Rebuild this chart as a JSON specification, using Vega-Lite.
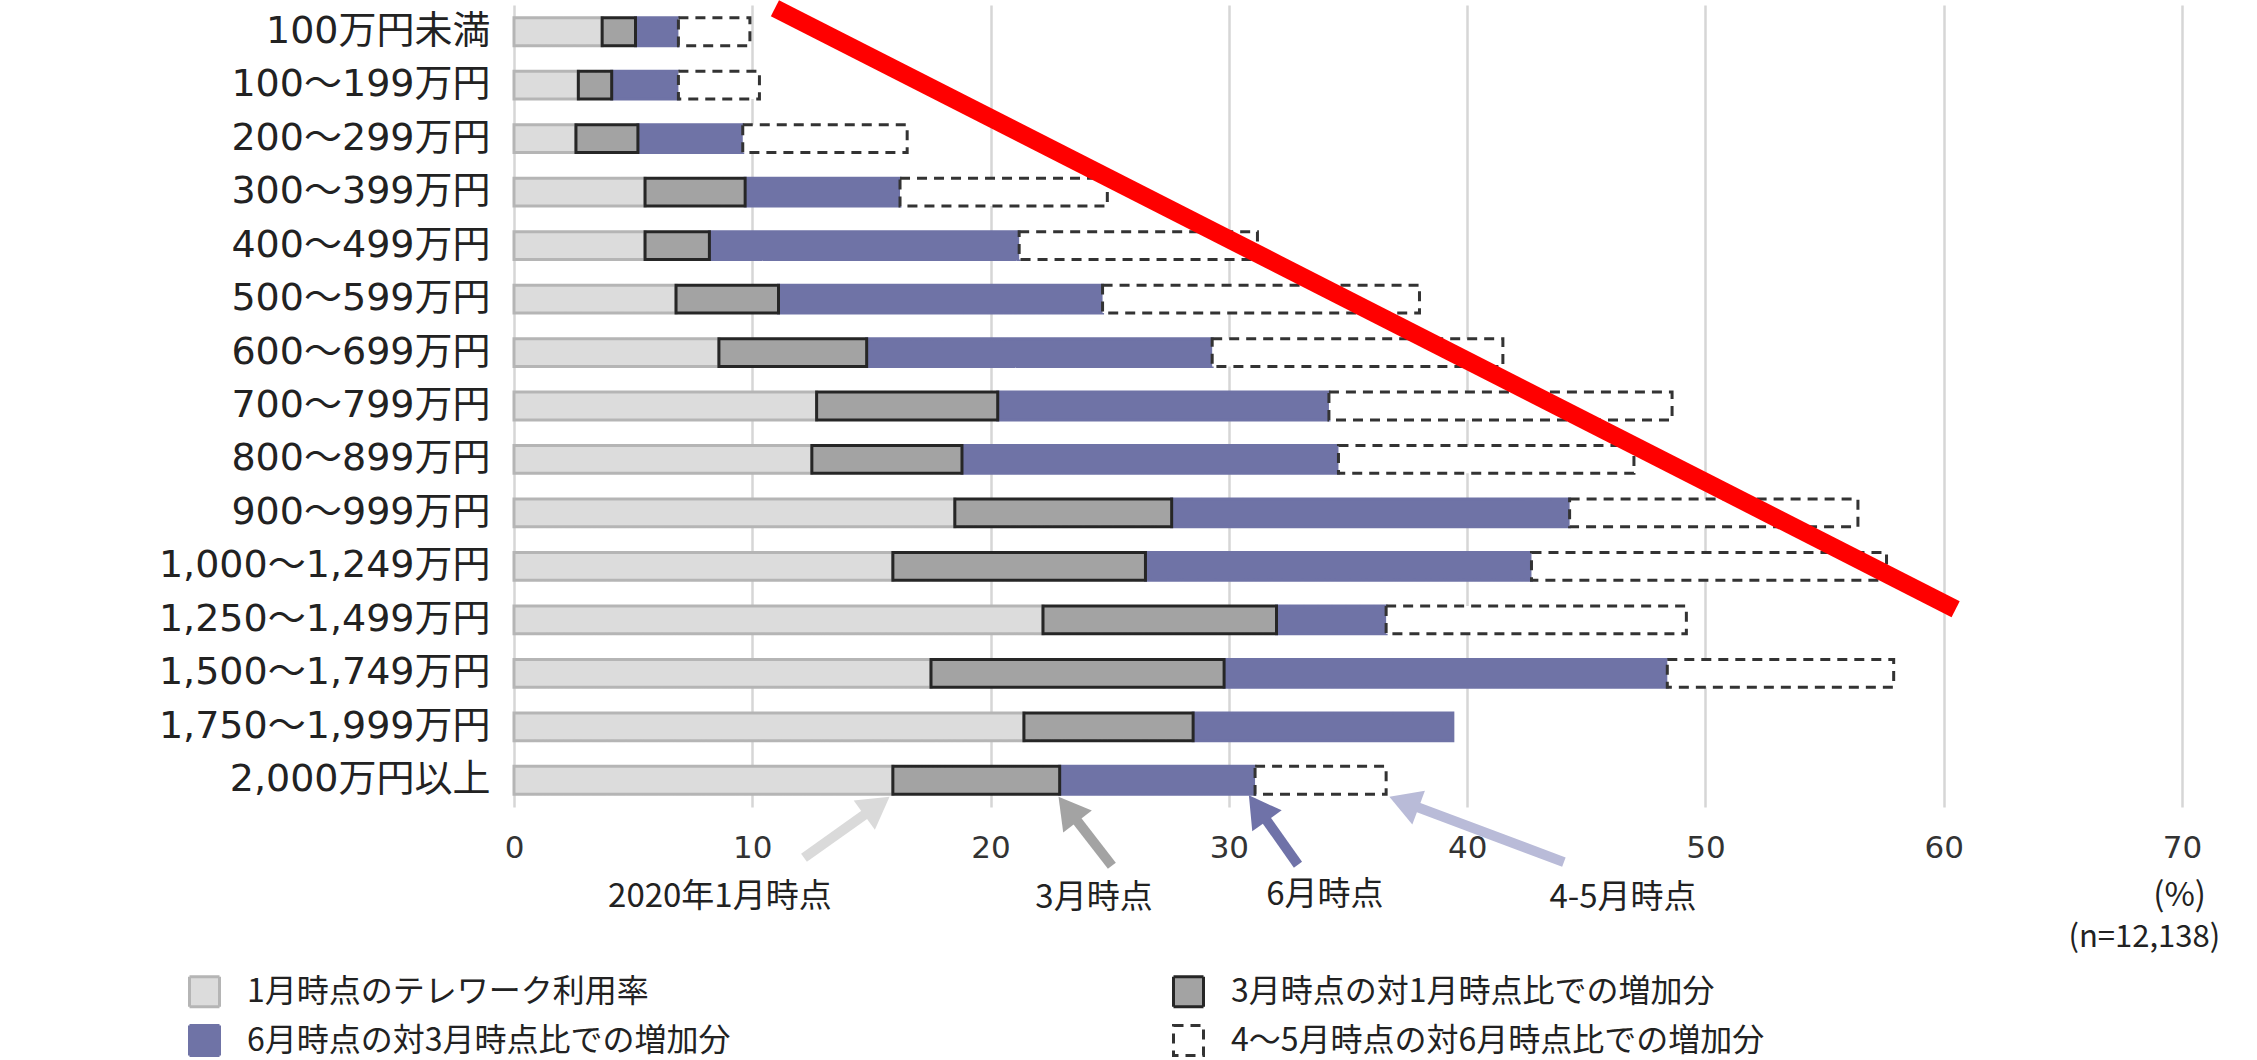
{
  "$schema": "https://vega.github.io/schema/vega-lite/v6.json",
  "autosize": {"type": "none"},
  "padding": {"left": 514, "top": 5, "right": 75, "bottom": 253},
  "width": 1668,
  "height": 802,
  "background": "#ffffff",
  "config": {
    "view": {"stroke": null},
    "font": "Noto Sans CJK JP"
  },
  "datasets": {
    "bars": [
      {"income": "100万円未満", "series": "1月時点のテレワーク利用率", "start": 0, "end": 3.7},
      {"income": "100万円未満", "series": "6月時点の対3月時点比での増加分", "start": 5.1, "end": 6.9},
      {"income": "100万円未満", "series": "4～5月時点の対6月時点比での増加分", "start": 6.9, "end": 9.9},
      {"income": "100万円未満", "series": "3月時点の対1月時点比での増加分", "start": 3.7, "end": 5.1},
      {"income": "100～199万円", "series": "1月時点のテレワーク利用率", "start": 0, "end": 2.7},
      {"income": "100～199万円", "series": "6月時点の対3月時点比での増加分", "start": 4.1, "end": 6.9},
      {"income": "100～199万円", "series": "4～5月時点の対6月時点比での増加分", "start": 6.9, "end": 10.3},
      {"income": "100～199万円", "series": "3月時点の対1月時点比での増加分", "start": 2.7, "end": 4.1},
      {"income": "200～299万円", "series": "1月時点のテレワーク利用率", "start": 0, "end": 2.6},
      {"income": "200～299万円", "series": "6月時点の対3月時点比での増加分", "start": 5.2, "end": 9.6},
      {"income": "200～299万円", "series": "4～5月時点の対6月時点比での増加分", "start": 9.6, "end": 16.5},
      {"income": "200～299万円", "series": "3月時点の対1月時点比での増加分", "start": 2.6, "end": 5.2},
      {"income": "300～399万円", "series": "1月時点のテレワーク利用率", "start": 0, "end": 5.5},
      {"income": "300～399万円", "series": "6月時点の対3月時点比での増加分", "start": 9.7, "end": 16.2},
      {"income": "300～399万円", "series": "4～5月時点の対6月時点比での増加分", "start": 16.2, "end": 24.9},
      {"income": "300～399万円", "series": "3月時点の対1月時点比での増加分", "start": 5.5, "end": 9.7},
      {"income": "400～499万円", "series": "1月時点のテレワーク利用率", "start": 0, "end": 5.5},
      {"income": "400～499万円", "series": "6月時点の対3月時点比での増加分", "start": 8.2, "end": 21.2},
      {"income": "400～499万円", "series": "4～5月時点の対6月時点比での増加分", "start": 21.2, "end": 31.2},
      {"income": "400～499万円", "series": "3月時点の対1月時点比での増加分", "start": 5.5, "end": 8.2},
      {"income": "500～599万円", "series": "1月時点のテレワーク利用率", "start": 0, "end": 6.8},
      {"income": "500～599万円", "series": "6月時点の対3月時点比での増加分", "start": 11.1, "end": 24.7},
      {"income": "500～599万円", "series": "4～5月時点の対6月時点比での増加分", "start": 24.7, "end": 38.0},
      {"income": "500～599万円", "series": "3月時点の対1月時点比での増加分", "start": 6.8, "end": 11.1},
      {"income": "600～699万円", "series": "1月時点のテレワーク利用率", "start": 0, "end": 8.6},
      {"income": "600～699万円", "series": "6月時点の対3月時点比での増加分", "start": 14.8, "end": 29.3},
      {"income": "600～699万円", "series": "4～5月時点の対6月時点比での増加分", "start": 29.3, "end": 41.5},
      {"income": "600～699万円", "series": "3月時点の対1月時点比での増加分", "start": 8.6, "end": 14.8},
      {"income": "700～799万円", "series": "1月時点のテレワーク利用率", "start": 0, "end": 12.7},
      {"income": "700～799万円", "series": "6月時点の対3月時点比での増加分", "start": 20.3, "end": 34.2},
      {"income": "700～799万円", "series": "4～5月時点の対6月時点比での増加分", "start": 34.2, "end": 48.6},
      {"income": "700～799万円", "series": "3月時点の対1月時点比での増加分", "start": 12.7, "end": 20.3},
      {"income": "800～899万円", "series": "1月時点のテレワーク利用率", "start": 0, "end": 12.5},
      {"income": "800～899万円", "series": "6月時点の対3月時点比での増加分", "start": 18.8, "end": 34.6},
      {"income": "800～899万円", "series": "4～5月時点の対6月時点比での増加分", "start": 34.6, "end": 47.0},
      {"income": "800～899万円", "series": "3月時点の対1月時点比での増加分", "start": 12.5, "end": 18.8},
      {"income": "900～999万円", "series": "1月時点のテレワーク利用率", "start": 0, "end": 18.5},
      {"income": "900～999万円", "series": "6月時点の対3月時点比での増加分", "start": 27.6, "end": 44.3},
      {"income": "900～999万円", "series": "4～5月時点の対6月時点比での増加分", "start": 44.3, "end": 56.4},
      {"income": "900～999万円", "series": "3月時点の対1月時点比での増加分", "start": 18.5, "end": 27.6},
      {"income": "1,000～1,249万円", "series": "1月時点のテレワーク利用率", "start": 0, "end": 15.9},
      {"income": "1,000～1,249万円", "series": "6月時点の対3月時点比での増加分", "start": 26.5, "end": 42.7},
      {"income": "1,000～1,249万円", "series": "4～5月時点の対6月時点比での増加分", "start": 42.7, "end": 57.6},
      {"income": "1,000～1,249万円", "series": "3月時点の対1月時点比での増加分", "start": 15.9, "end": 26.5},
      {"income": "1,250～1,499万円", "series": "1月時点のテレワーク利用率", "start": 0, "end": 22.2},
      {"income": "1,250～1,499万円", "series": "6月時点の対3月時点比での増加分", "start": 32.0, "end": 36.6},
      {"income": "1,250～1,499万円", "series": "4～5月時点の対6月時点比での増加分", "start": 36.6, "end": 49.2},
      {"income": "1,250～1,499万円", "series": "3月時点の対1月時点比での増加分", "start": 22.2, "end": 32.0},
      {"income": "1,500～1,749万円", "series": "1月時点のテレワーク利用率", "start": 0, "end": 17.5},
      {"income": "1,500～1,749万円", "series": "6月時点の対3月時点比での増加分", "start": 29.8, "end": 48.4},
      {"income": "1,500～1,749万円", "series": "4～5月時点の対6月時点比での増加分", "start": 48.4, "end": 57.9},
      {"income": "1,500～1,749万円", "series": "3月時点の対1月時点比での増加分", "start": 17.5, "end": 29.8},
      {"income": "1,750～1,999万円", "series": "1月時点のテレワーク利用率", "start": 0, "end": 21.4},
      {"income": "1,750～1,999万円", "series": "6月時点の対3月時点比での増加分", "start": 28.5, "end": 39.4},
      {"income": "1,750～1,999万円", "series": "3月時点の対1月時点比での増加分", "start": 21.4, "end": 28.5},
      {"income": "2,000万円以上", "series": "1月時点のテレワーク利用率", "start": 0, "end": 15.9},
      {"income": "2,000万円以上", "series": "6月時点の対3月時点比での増加分", "start": 22.9, "end": 31.1},
      {"income": "2,000万円以上", "series": "4～5月時点の対6月時点比での増加分", "start": 31.1, "end": 36.6},
      {"income": "2,000万円以上", "series": "3月時点の対1月時点比での増加分", "start": 15.9, "end": 22.9}
    ],
    "redline": [
      {"x": 10.95, "yq": 0.06},
      {"x": 60.5, "yq": 11.3}
    ],
    "arrows": [
      {"name": "jan", "xt": 12.17, "yt": 15.95, "xh": 15.23, "yh": 14.98},
      {"name": "mar", "xt": 25.09, "yt": 16.10, "xh": 23.25, "yh": 15.04},
      {"name": "jun", "xt": 32.9, "yt": 16.08, "xh": 31.22, "yh": 15.02},
      {"name": "aprmay", "xt": 44.06, "yt": 16.03, "xh": 37.35, "yh": 14.91}
    ],
    "notes": [
      {"t": "2020年1月時点", "x": 8.64, "yq": 16.68},
      {"t": "3月時点", "x": 24.34, "yq": 16.7},
      {"t": "6月時点", "x": 34.03, "yq": 16.64},
      {"t": "4-5月時点", "x": 46.54, "yq": 16.7},
      {"t": "(%)", "x": 69.9, "yq": 16.66}
    ],
    "nnote": [
      {"t": "(n=12,138)", "x": 71.6, "yq": 17.45}
    ]
  },
  "layer": [
    {
      "data": {"name": "bars"},
      "mark": {"type": "bar", "strokeWidth": 3, "opacity": 1},
      "encoding": {
        "y": {
          "field": "income", "type": "nominal",
          "sort": ["100万円未満", "100～199万円", "200～299万円", "300～399万円", "400～499万円", "500～599万円", "600～699万円", "700～799万円", "800～899万円", "900～999万円", "1,000～1,249万円", "1,250～1,499万円", "1,500～1,749万円", "1,750～1,999万円", "2,000万円以上"],
          "scale": {"paddingInner": 0.48, "paddingOuter": 0.24},
          "axis": {"title": null, "domain": false, "ticks": false, "tickSize": 0, "labelPadding": 24, "labelFontSize": 38, "labelFont": "DejaVu Sans, Noto Sans CJK JP", "labelColor": "#222222", "labelLimit": 0, "grid": false}
        },
        "x": {
          "field": "start", "type": "quantitative",
          "scale": {"domain": [0, 70], "nice": false, "zero": true},
          "axis": {"title": null, "values": [0, 10, 20, 30, 40, 50, 60, 70], "grid": true, "gridColor": "#d6d6d6", "gridWidth": 2.5, "domain": false, "ticks": false, "tickSize": 0, "labelPadding": 26, "labelFontSize": 31, "labelFont": "DejaVu Sans", "labelColor": "#333333", "labelFlush": false}
        },
        "x2": {"field": "end"},
        "fill": {
          "field": "series", "type": "nominal",
          "scale": {
            "domain": ["1月時点のテレワーク利用率", "3月時点の対1月時点比での増加分", "6月時点の対3月時点比での増加分", "4～5月時点の対6月時点比での増加分"],
            "range": ["#dcdcdc", "#a3a3a3", "#6f73a6", "#ffffff"]
          },
          "legend": {
            "title": null, "orient": "none", "legendX": -326, "legendY": 970, "columns": 2, "direction": "horizontal",
            "symbolType": "square", "symbolSize": 900, "symbolStrokeWidth": 3,
            "labelFontSize": 32, "labelFont": "Noto Sans CJK JP", "labelColor": "#222222",
            "labelOffset": 26, "columnPadding": 436, "rowPadding": 6, "labelLimit": 0, "padding": 0
          }
        },
        "stroke": {
          "field": "series", "type": "nominal",
          "scale": {
            "domain": ["1月時点のテレワーク利用率", "3月時点の対1月時点比での増加分", "6月時点の対3月時点比での増加分", "4～5月時点の対6月時点比での増加分"],
            "range": ["#b5b5b5", "#262626", "#6f73a6", "#333333"]
          },
          "legend": {
            "title": null, "orient": "none", "legendX": -326, "legendY": 970, "columns": 2, "direction": "horizontal",
            "symbolType": "square", "symbolSize": 900, "symbolStrokeWidth": 3,
            "labelFontSize": 32, "labelFont": "Noto Sans CJK JP", "labelColor": "#222222",
            "labelOffset": 26, "columnPadding": 436, "rowPadding": 6, "labelLimit": 0, "padding": 0
          }
        },
        "strokeDash": {
          "field": "series", "type": "nominal",
          "scale": {
            "domain": ["1月時点のテレワーク利用率", "3月時点の対1月時点比での増加分", "6月時点の対3月時点比での増加分", "4～5月時点の対6月時点比での増加分"],
            "range": [[1, 0], [1, 0], [1, 0], [10, 7]]
          },
          "legend": {
            "title": null, "orient": "none", "legendX": -326, "legendY": 970, "columns": 2, "direction": "horizontal",
            "symbolType": "square", "symbolSize": 900, "symbolStrokeWidth": 3,
            "labelFontSize": 32, "labelFont": "Noto Sans CJK JP", "labelColor": "#222222",
            "labelOffset": 26, "columnPadding": 436, "rowPadding": 6, "labelLimit": 0, "padding": 0
          }
        }
      }
    },
    {
      "data": {"name": "arrows"},
      "mark": {"type": "rule", "strokeWidth": 10, "strokeCap": "butt"},
      "encoding": {
        "x": {"field": "xt", "type": "quantitative", "scale": {"domain": [0, 70], "nice": false}, "title": null},
        "x2": {"field": "xh"},
        "y": {"field": "yt", "type": "quantitative", "scale": {"domain": [0, 15], "reverse": true, "nice": false, "zero": false}, "axis": null},
        "y2": {"field": "yh"},
        "color": {
          "field": "name", "type": "nominal",
          "scale": {"domain": ["jan", "mar", "jun", "aprmay"], "range": ["#dadada", "#a3a3a3", "#6f72a8", "#b9bbd8"]},
          "legend": null
        }
      }
    },
    {
      "data": {"name": "arrows"},
      "transform": [{"filter": "datum.name == 'jan'"}],
      "mark": {"type": "point", "shape": "triangle-up", "filled": true, "opacity": 1, "size": 1300, "angle": 54, "color": "#dadada"},
      "encoding": {
        "x": {"field": "xh", "type": "quantitative", "scale": {"domain": [0, 70], "nice": false}, "title": null},
        "y": {"field": "yh", "type": "quantitative", "scale": {"domain": [0, 15], "reverse": true, "nice": false, "zero": false}, "axis": null}
      }
    },
    {
      "data": {"name": "arrows"},
      "transform": [{"filter": "datum.name == 'mar'"}],
      "mark": {"type": "point", "shape": "triangle-up", "filled": true, "opacity": 1, "size": 1300, "angle": 322.5, "color": "#a3a3a3"},
      "encoding": {
        "x": {"field": "xh", "type": "quantitative", "scale": {"domain": [0, 70], "nice": false}, "title": null},
        "y": {"field": "yh", "type": "quantitative", "scale": {"domain": [0, 15], "reverse": true, "nice": false, "zero": false}, "axis": null}
      }
    },
    {
      "data": {"name": "arrows"},
      "transform": [{"filter": "datum.name == 'jun'"}],
      "mark": {"type": "point", "shape": "triangle-up", "filled": true, "opacity": 1, "size": 1300, "angle": 324.6, "color": "#6f72a8"},
      "encoding": {
        "x": {"field": "xh", "type": "quantitative", "scale": {"domain": [0, 70], "nice": false}, "title": null},
        "y": {"field": "yh", "type": "quantitative", "scale": {"domain": [0, 15], "reverse": true, "nice": false, "zero": false}, "axis": null}
      }
    },
    {
      "data": {"name": "arrows"},
      "transform": [{"filter": "datum.name == 'aprmay'"}],
      "mark": {"type": "point", "shape": "triangle-up", "filled": true, "opacity": 1, "size": 1300, "angle": 290.5, "color": "#b9bbd8"},
      "encoding": {
        "x": {"field": "xh", "type": "quantitative", "scale": {"domain": [0, 70], "nice": false}, "title": null},
        "y": {"field": "yh", "type": "quantitative", "scale": {"domain": [0, 15], "reverse": true, "nice": false, "zero": false}, "axis": null}
      }
    },
    {
      "data": {"name": "notes"},
      "mark": {"type": "text", "font": "Noto Sans CJK JP", "fontSize": 33, "color": "#222222", "align": "center", "baseline": "middle"},
      "encoding": {
        "x": {"field": "x", "type": "quantitative", "scale": {"domain": [0, 70], "nice": false}, "title": null},
        "y": {"field": "yq", "type": "quantitative", "scale": {"domain": [0, 15], "reverse": true, "nice": false, "zero": false}, "axis": null},
        "text": {"field": "t"}
      }
    },
    {
      "data": {"name": "nnote"},
      "mark": {"type": "text", "font": "Noto Sans CJK JP", "fontSize": 31, "color": "#222222", "align": "right", "baseline": "middle"},
      "encoding": {
        "x": {"field": "x", "type": "quantitative", "scale": {"domain": [0, 70], "nice": false}, "title": null},
        "y": {"field": "yq", "type": "quantitative", "scale": {"domain": [0, 15], "reverse": true, "nice": false, "zero": false}, "axis": null},
        "text": {"field": "t"}
      }
    },
    {
      "data": {"name": "redline"},
      "mark": {"type": "line", "color": "#ff0000", "strokeWidth": 18, "strokeCap": "butt"},
      "encoding": {
        "x": {"field": "x", "type": "quantitative", "scale": {"domain": [0, 70], "nice": false}, "title": null},
        "y": {"field": "yq", "type": "quantitative", "scale": {"domain": [0, 15], "reverse": true, "nice": false, "zero": false}, "axis": null}
      }
    }
  ],
  "resolve": {"scale": {"y": "independent"}, "axis": {"y": "independent"}}
}
